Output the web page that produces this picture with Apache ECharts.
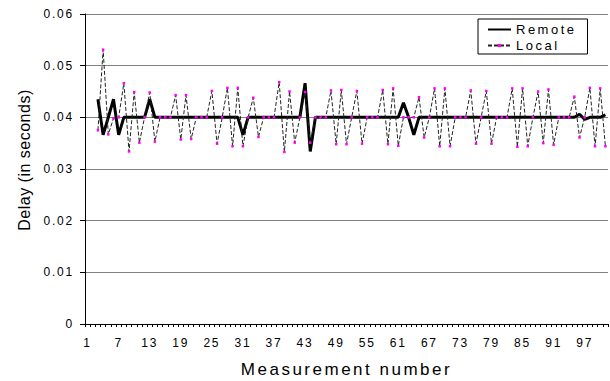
<!DOCTYPE html>
<html lang="en">
<head>
<meta charset="UTF-8">
<title>Delay per measurement</title>
<script src="https://cdn.jsdelivr.net/npm/echarts/dist/echarts.min.js"></script>
<style>
  body { margin: 0; background: #ffffff; }
  #chart { width: 610px; height: 381px; }
</style>
</head>
<body>
<div id="chart"></div>
<script>
// measurement numbers 1..101 (first two have no samples)
const measurements = [];
for (let i = 1; i <= 101; i++) measurements.push(String(i));

const remoteDelay = [
  null, null, 0.0435, 0.0366, 0.040, 0.0435, 0.0366, 0.040, 0.040, 0.040,
  0.040, 0.040, 0.0435, 0.040, 0.040, 0.040, 0.040, 0.040, 0.040, 0.040,
  0.040, 0.040, 0.040, 0.040, 0.040, 0.040, 0.040, 0.040, 0.040, 0.040,
  0.0366, 0.040, 0.040, 0.040, 0.040, 0.040, 0.040, 0.040, 0.040, 0.040,
  0.040, 0.040, 0.0466, 0.0334, 0.040, 0.040, 0.040, 0.040, 0.040, 0.040,
  0.040, 0.040, 0.040, 0.040, 0.040, 0.040, 0.040, 0.040, 0.040, 0.040,
  0.040, 0.0428, 0.040, 0.0366, 0.040, 0.040, 0.040, 0.040, 0.040, 0.040,
  0.040, 0.040, 0.040, 0.040, 0.040, 0.040, 0.040, 0.040, 0.040, 0.040,
  0.040, 0.040, 0.040, 0.040, 0.040, 0.040, 0.040, 0.040, 0.040, 0.040,
  0.040, 0.040, 0.040, 0.040, 0.040, 0.0406, 0.0396, 0.040, 0.040, 0.040,
  0.0405
];

const localDelay = [
  null, null, 0.0375, 0.0531, 0.0367, 0.0398, 0.040, 0.0466, 0.0334, 0.0449,
  0.0351, 0.040, 0.0448, 0.0353, 0.040, 0.040, 0.040, 0.0443, 0.0357, 0.0443,
  0.0358, 0.040, 0.040, 0.040, 0.0451, 0.0349, 0.040, 0.0457, 0.0344, 0.0457,
  0.0344, 0.040, 0.0438, 0.0362, 0.040, 0.040, 0.040, 0.0468, 0.0333, 0.0450,
  0.0351, 0.040, 0.0449, 0.0351, 0.040, 0.040, 0.040, 0.0452, 0.0348, 0.0453,
  0.0348, 0.040, 0.0451, 0.0349, 0.040, 0.040, 0.040, 0.0453, 0.0348, 0.0456,
  0.0345, 0.040, 0.040, 0.040, 0.0439, 0.0361, 0.040, 0.0456, 0.0344, 0.0456,
  0.0344, 0.040, 0.040, 0.040, 0.0452, 0.0349, 0.040, 0.0451, 0.0349, 0.040,
  0.040, 0.040, 0.0456, 0.0343, 0.0456, 0.0344, 0.040, 0.0450, 0.0350, 0.0454,
  0.0347, 0.040, 0.040, 0.040, 0.0440, 0.0361, 0.040, 0.0457, 0.0344, 0.0456,
  0.0344
];

const seriesNames = ['Remote', 'Local'];

const font = "'Liberation Sans', Arial, sans-serif";

const chart = echarts.init(document.getElementById('chart'), null, { renderer: 'svg' });

chart.setOption({
  animation: false,
  backgroundColor: '#ffffff',
  grid: {
    left: 85,
    right: 2,
    top: 14,
    bottom: 57,
    containLabel: false,
    outerBoundsMode: 'none'
  },
  legend: {
    orient: 'vertical',
    left: 478,
    top: 19,
    padding: [4, 26, 2, 9],
    itemWidth: 23,
    itemHeight: 4,
    itemGap: 3,
    itemTextGap: 2,
    borderColor: '#000',
    borderWidth: 1,
    backgroundColor: '#fff',
    data: [
      { name: seriesNames[0], itemStyle: { opacity: 0 }, lineStyle: { width: 2 } },
      { name: seriesNames[1], itemStyle: { color: '#ff00ff' } }
    ],
    textStyle: { fontFamily: font, fontSize: 13, color: '#000' }
  },
  xAxis: {
    type: 'category',
    data: measurements,
    boundaryGap: true,
    name: 'Measurement number',
    nameLocation: 'middle',
    nameGap: 37,
    nameTextStyle: { fontFamily: font, fontSize: 17, color: '#000' },
    axisLine: { lineStyle: { color: '#000', width: 1 } },
    axisTick: { show: true, interval: 0, length: 3, lineStyle: { color: '#000' } },
    axisLabel: { interval: 5, margin: 13, fontFamily: font, fontSize: 12, color: '#000' },
    splitLine: { show: false }
  },
  yAxis: {
    type: 'value',
    min: 0,
    max: 0.06,
    interval: 0.01,
    name: 'Delay (in seconds)',
    nameLocation: 'middle',
    nameRotate: 90,
    nameGap: 53,
    nameTextStyle: { fontFamily: font, fontSize: 16, color: '#000', padding: [0, 0, 0, 18] },
    axisLine: { show: true, lineStyle: { color: '#000', width: 1 } },
    axisTick: { show: true, length: 5, lineStyle: { color: '#000' } },
    axisLabel: {
      margin: 11,
      fontFamily: font,
      fontSize: 12,
      color: '#000',
      formatter: function (v) { return v === 0 ? '0' : v.toFixed(2); }
    },
    splitLine: { show: true, lineStyle: { color: '#808080', width: 1 } }
  },
  series: [
    {
      name: seriesNames[0],
      type: 'line',
      data: remoteDelay,
      symbol: 'none',
      lineStyle: { color: '#000', width: 3 },
      itemStyle: { color: '#000' },
      emphasis: { disabled: true }
    },
    {
      name: seriesNames[1],
      type: 'line',
      data: localDelay,
      symbol: 'rect',
      symbolSize: 2.5,
      showSymbol: true,
      showAllSymbol: true,
      lineStyle: { color: '#222', width: 1, type: [4, 2] },
      itemStyle: { color: '#ff00ff' },
      emphasis: { disabled: true }
    }
  ]
});

// the original figure uses spread-out lettering; the SVG text takes it via CSS
const spacingBySize = { '12px': '1.8px', '13px': '2.5px', '17px': '2.5px', '16px': '0.5px' };
function spreadText() {
  document.querySelectorAll('#chart text').forEach(function (t) {
    const s = spacingBySize[getComputedStyle(t).fontSize];
    if (s) t.style.letterSpacing = s;
  });
}
spreadText();
chart.on('finished', spreadText);
</script>
</body>
</html>
